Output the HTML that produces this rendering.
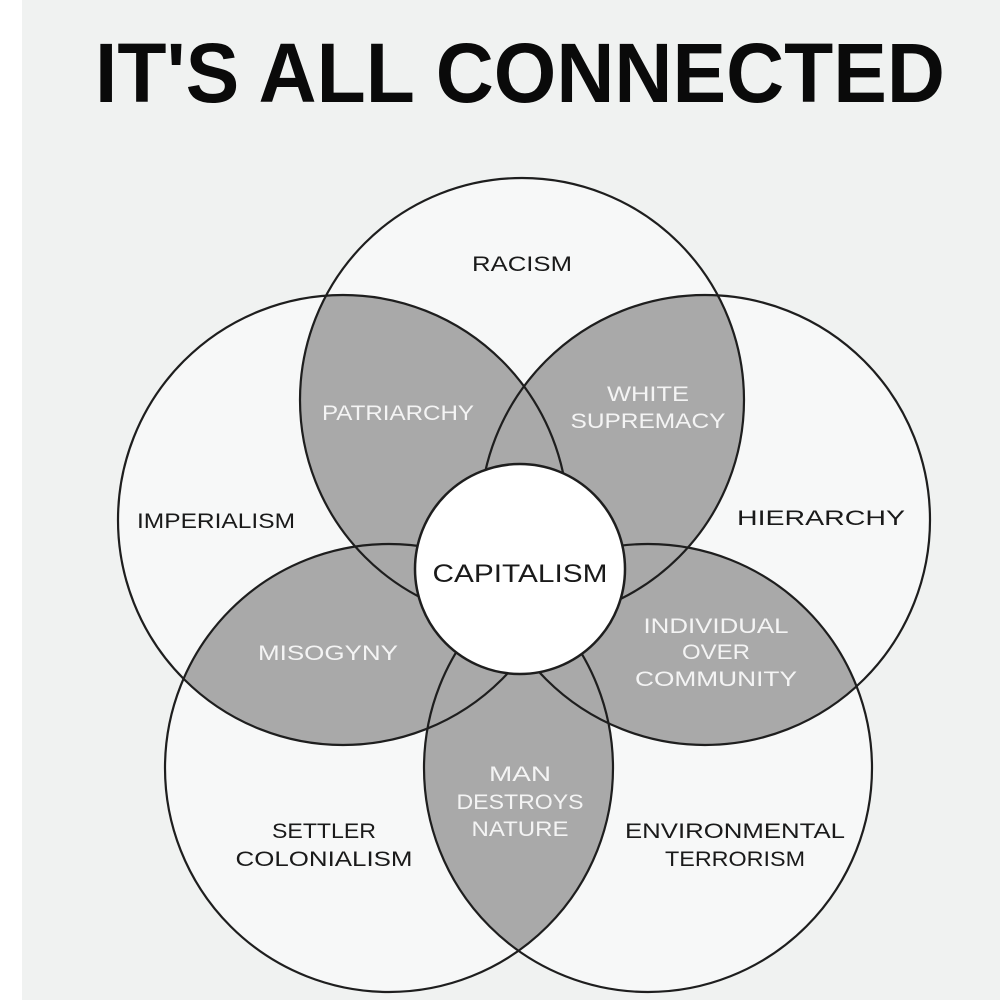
<!DOCTYPE html>
<html><head><meta charset="utf-8"><style>
html,body{margin:0;padding:0;background:#f0f2f1;}
svg{display:block}
text{font-family:"Liberation Sans",sans-serif;}
</style></head><body>
<svg width="1000" height="1000" viewBox="0 0 1000 1000" xmlns="http://www.w3.org/2000/svg">
<rect width="1000" height="1000" fill="#f0f2f1"/>
<rect width="22" height="1000" fill="#ffffff"/>
<text x="95" y="102" font-size="84" font-weight="bold" textLength="850" lengthAdjust="spacingAndGlyphs" fill="#0a0a0a">IT'S ALL CONNECTED</text>
<defs>
<clipPath id="cT"><circle cx="522" cy="400" r="222"/></clipPath>
<clipPath id="cL"><circle cx="343" cy="520" r="225"/></clipPath>
<clipPath id="cR"><circle cx="705" cy="520" r="225"/></clipPath>
<clipPath id="cBL"><circle cx="389" cy="768" r="224"/></clipPath>
<clipPath id="cBR"><circle cx="648" cy="768" r="224"/></clipPath>
</defs>
<g fill="#f7f8f8">
<circle cx="522" cy="400" r="222"/>
<circle cx="343" cy="520" r="225"/>
<circle cx="705" cy="520" r="225"/>
<circle cx="389" cy="768" r="224"/>
<circle cx="648" cy="768" r="224"/>
</g>
<g fill="#a9a9a9">
<circle cx="343" cy="520" r="225" clip-path="url(#cT)"/>
<circle cx="705" cy="520" r="225" clip-path="url(#cT)"/>
<circle cx="389" cy="768" r="224" clip-path="url(#cT)"/>
<circle cx="648" cy="768" r="224" clip-path="url(#cT)"/>
<circle cx="705" cy="520" r="225" clip-path="url(#cL)"/>
<circle cx="389" cy="768" r="224" clip-path="url(#cL)"/>
<circle cx="648" cy="768" r="224" clip-path="url(#cL)"/>
<circle cx="389" cy="768" r="224" clip-path="url(#cR)"/>
<circle cx="648" cy="768" r="224" clip-path="url(#cR)"/>
<circle cx="648" cy="768" r="224" clip-path="url(#cBL)"/>
</g>
<g fill="none" stroke="#1e1e1e" stroke-width="2.2">
<circle cx="522" cy="400" r="222"/>
<circle cx="343" cy="520" r="225"/>
<circle cx="705" cy="520" r="225"/>
<circle cx="389" cy="768" r="224"/>
<circle cx="648" cy="768" r="224"/>
</g>
<circle cx="520" cy="569" r="105" fill="#ffffff" stroke="#1e1e1e" stroke-width="2.5"/>
<g font-size="21" text-anchor="middle" fill="#1a1a1a" lengthAdjust="spacingAndGlyphs">
<text x="522" y="271" textLength="100" lengthAdjust="spacingAndGlyphs">RACISM</text>
<text x="216" y="528" textLength="158" lengthAdjust="spacingAndGlyphs">IMPERIALISM</text>
<text x="821" y="525" textLength="168" lengthAdjust="spacingAndGlyphs">HIERARCHY</text>
<text x="520" y="582" font-size="25" textLength="175" lengthAdjust="spacingAndGlyphs">CAPITALISM</text>
<text x="324" y="838" textLength="104" lengthAdjust="spacingAndGlyphs">SETTLER</text>
<text x="324" y="866" textLength="177" lengthAdjust="spacingAndGlyphs">COLONIALISM</text>
<text x="735" y="838" textLength="220" lengthAdjust="spacingAndGlyphs">ENVIRONMENTAL</text>
<text x="735" y="866" textLength="140" lengthAdjust="spacingAndGlyphs">TERRORISM</text>
</g>
<g font-size="21" text-anchor="middle" fill="#f4f4f4">
<text x="398" y="420" textLength="152" lengthAdjust="spacingAndGlyphs">PATRIARCHY</text>
<text x="648" y="401" textLength="82" lengthAdjust="spacingAndGlyphs">WHITE</text>
<text x="648" y="428" textLength="155" lengthAdjust="spacingAndGlyphs">SUPREMACY</text>
<text x="328" y="660" textLength="140" lengthAdjust="spacingAndGlyphs">MISOGYNY</text>
<text x="716" y="633" textLength="145" lengthAdjust="spacingAndGlyphs">INDIVIDUAL</text>
<text x="716" y="659" textLength="68" lengthAdjust="spacingAndGlyphs">OVER</text>
<text x="716" y="686" textLength="162" lengthAdjust="spacingAndGlyphs">COMMUNITY</text>
<text x="520" y="781" textLength="62" lengthAdjust="spacingAndGlyphs">MAN</text>
<text x="520" y="809" textLength="127" lengthAdjust="spacingAndGlyphs">DESTROYS</text>
<text x="520" y="836" textLength="97" lengthAdjust="spacingAndGlyphs">NATURE</text>
</g>
</svg>
</body></html>
